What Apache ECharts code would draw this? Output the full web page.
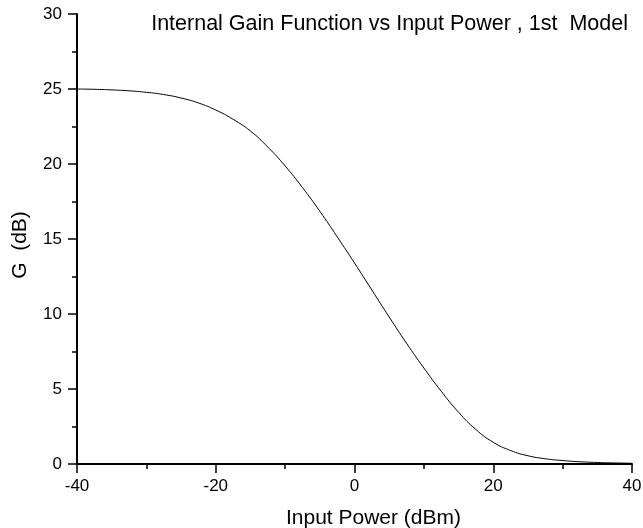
<!DOCTYPE html>
<html>
<head>
<meta charset="utf-8">
<script src="https://cdn.jsdelivr.net/npm/echarts@6/dist/echarts.min.js"></script>
<style>html,body{margin:0;padding:0;background:#fff}#c{width:643px;height:528px}</style>
</head>
<body>
<div id="c"></div>
<script>
const inputPower = [-40,-37.5,-35,-32.5,-30,-27.5,-25,-22.5,-20,-17.5,-15,-12.5,-10,-7.5,-5,-2.5,0,2.5,5,7.5,10,12.5,15,17.5,20,22.5,25,27.5,30,32.5,35,37.5,40];
const gain = [25.00,24.98,24.94,24.88,24.78,24.63,24.40,24.07,23.60,22.98,22.20,21.13,19.87,18.43,16.85,15.15,13.40,11.60,9.80,8.05,6.40,4.85,3.45,2.30,1.45,0.90,0.55,0.35,0.23,0.15,0.10,0.07,0.05];
const titleText = 'Internal Gain Function vs Input Power , 1st  Model';
const xName = 'Input Power (dBm)';
const yName = 'G  (dB)';

const font = 'Arial, "Liberation Sans", sans-serif';
const chart = echarts.init(document.getElementById('c'));
chart.setOption({
  animation: false,
  title: {
    text: titleText, right: 10, top: 8,
    textStyle: {fontFamily: font, fontSize: 21.5, fontWeight: 'normal', color: '#000'}
  },
  grid: {left: 77, right: 11, top: 14, bottom: 64, containLabel: false, outerBoundsMode: 'none'},
  xAxis: {
    type: 'value', min: -40, max: 40, interval: 20,
    name: xName, nameLocation: 'middle', nameGap: 44,
    nameTextStyle: {fontFamily: font, fontSize: 21, color: '#000', padding: [0, 0, 0, 38]},
    axisLine: {show: true, onZero: false, lineStyle: {color: '#000', width: 2}},
    axisTick: {show: true, length: 9, lineStyle: {color: '#000', width: 1.5}},
    minorTick: {show: true, splitNumber: 2, length: 5, lineStyle: {color: '#000', width: 1.5}},
    axisLabel: {margin: 14, fontFamily: font, fontSize: 17, color: '#000'},
    splitLine: {show: false}
  },
  yAxis: {
    type: 'value', min: 0, max: 30, interval: 5,
    name: yName, nameLocation: 'middle', nameGap: 46,
    nameTextStyle: {fontFamily: font, fontSize: 21, color: '#000', padding: [0, 0, 0, -12]},
    axisLine: {show: true, onZero: false, lineStyle: {color: '#000', width: 2}},
    axisTick: {show: true, length: 9, lineStyle: {color: '#000', width: 1.5}},
    minorTick: {show: true, splitNumber: 2, length: 5, lineStyle: {color: '#000', width: 1.5}},
    axisLabel: {margin: 15, fontFamily: font, fontSize: 17, color: '#000'},
    splitLine: {show: false}
  },
  series: [{
    type: 'line',
    data: inputPower.map((x, i) => [x, gain[i]]),
    smooth: 0.5,
    showSymbol: false,
    lineStyle: {color: '#000', width: 1}
  }]
});
</script>
</body>
</html>
